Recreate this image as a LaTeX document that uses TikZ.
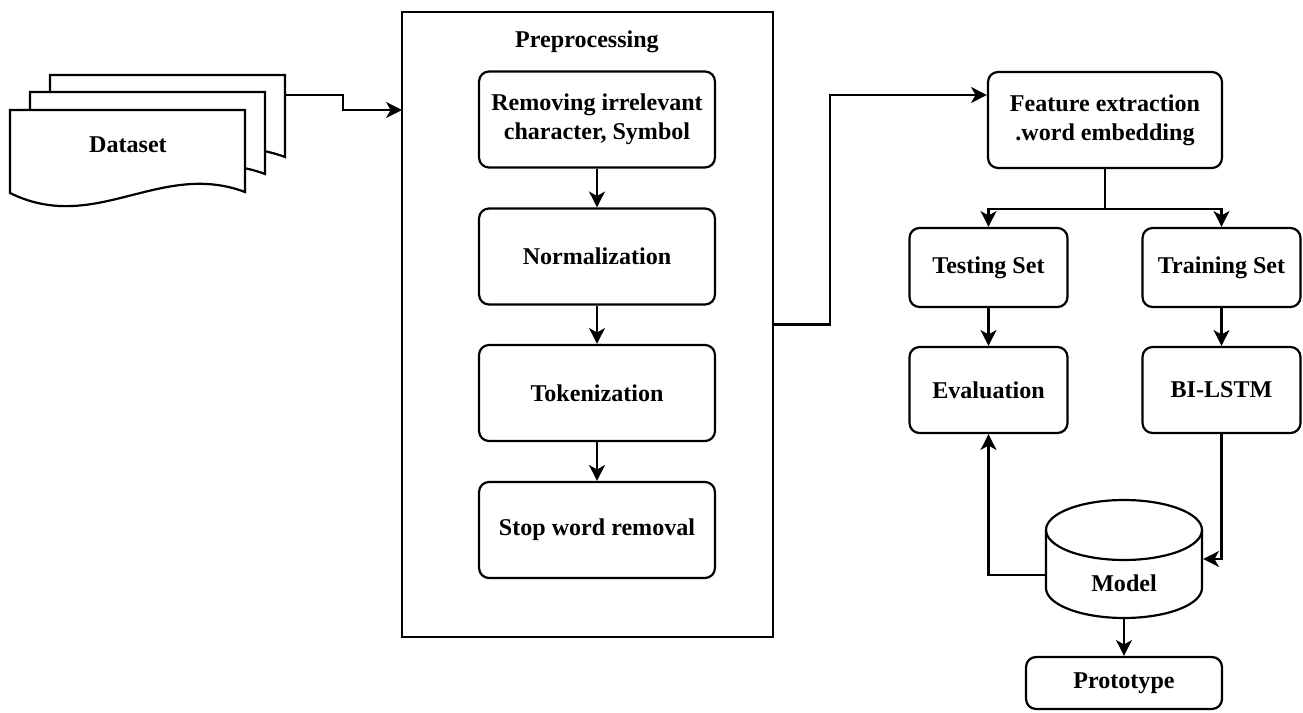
\documentclass[tikz,border=0pt]{standalone}
\usepackage{fontspec}
\setmainfont{Liberation Serif}
\usetikzlibrary{arrows.meta}
\begin{document}
\begin{tikzpicture}[x=0.02cm, y=-0.02cm, line width=1.25pt,
    every node/.style={font=\bfseries\fontsize{13.7}{16.5}\selectfont, align=center},
    box/.style={draw, rounded corners=0.2cm, inner sep=2pt},
    stepbox/.style={box, minimum width=4.72cm, minimum height=1.92cm},
    setbox/.style={box, minimum width=3.16cm},
    arr/.style={-{Stealth[length=9pt,width=9pt,inset=2.5pt]}}]
\useasboundingbox (0,0) rectangle (1303,713);

% dataset stack
\foreach \dx/\dy in {40/-35, 20/-18, 0/0}
    \draw[fill=white, shift={(\dx,\dy)}] (10,110) -- (245,110) -- (245,192)
        .. controls (160,160) and (95,235) .. (10,193) -- cycle;
\node (data) at (128,145) {Dataset};
\coordinate (dsout) at (285,95);

% preprocessing
\node[draw, minimum width=7.42cm, minimum height=12.5cm] (pre) at (587.5,324.5) {};
\node (pretitle) at (587,42) {Preprocessing};
\coordinate (prein) at (402,110);

\node[stepbox] (rem)  at (597,119.5) {Removing irrelevant\\character, Symbol};
\node[stepbox] (norm) at (597,256.5) {Normalization};
\node[stepbox] (tok)  at (597,393)   {Tokenization};
\node[stepbox] (stop) at (597,530)   {Stop word removal};

% right part
\node[box, minimum width=4.68cm, minimum height=1.92cm] (feat) at (1105,120) {Feature extraction\\.word embedding};
\node[setbox, minimum height=1.58cm] (test)   at (988.5,267.5) {Testing Set};
\node[setbox, minimum height=1.58cm] (train)  at (1221.5,267.5) {Training Set};
\node[setbox, minimum height=1.72cm] (eval)   at (988.5,390) {Evaluation};
\node[setbox, minimum height=1.72cm] (bilstm) at (1221.5,390) {BI-LSTM};

% model cylinder
\node[minimum width=3.12cm, minimum height=2.36cm] (model) at (1124,559) {};
\draw (1046,530) -- (1046,588) arc[start angle=180, end angle=360, x radius=1.56cm, y radius=0.6cm] -- (1202,530);
\draw (1124,530) ellipse [x radius=1.56cm, y radius=0.6cm];
\node (modeltext) at (1124,583) {Model};

\node[box, minimum width=3.92cm, minimum height=1.04cm] (proto) at (1124,683) {Prototype};

% connectors
\draw[arr] (dsout) -- (343,95) -- (343,110) -- (prein);
\draw[arr] (rem) -- (norm);
\draw[arr] (norm) -- (tok);
\draw[arr] (tok) -- (stop);
\draw[arr] (pre.east) -- (830,324.5) |- ([yshift=0.5cm]feat.west);
\draw[arr] (feat.south) -- ++(0,40) -| (test.north);
\draw[arr] (feat.south) -- ++(0,40) -| (train.north);
\draw[arr] (test) -- (eval);
\draw[arr] (train) -- (bilstm);
\draw[arr] (bilstm.south) |- (model.east);
\draw[arr] ([yshift=-0.32cm]model.west) -| (eval.south);
\draw[arr] (model.south) -- (proto.north);
\end{tikzpicture}
\end{document}
